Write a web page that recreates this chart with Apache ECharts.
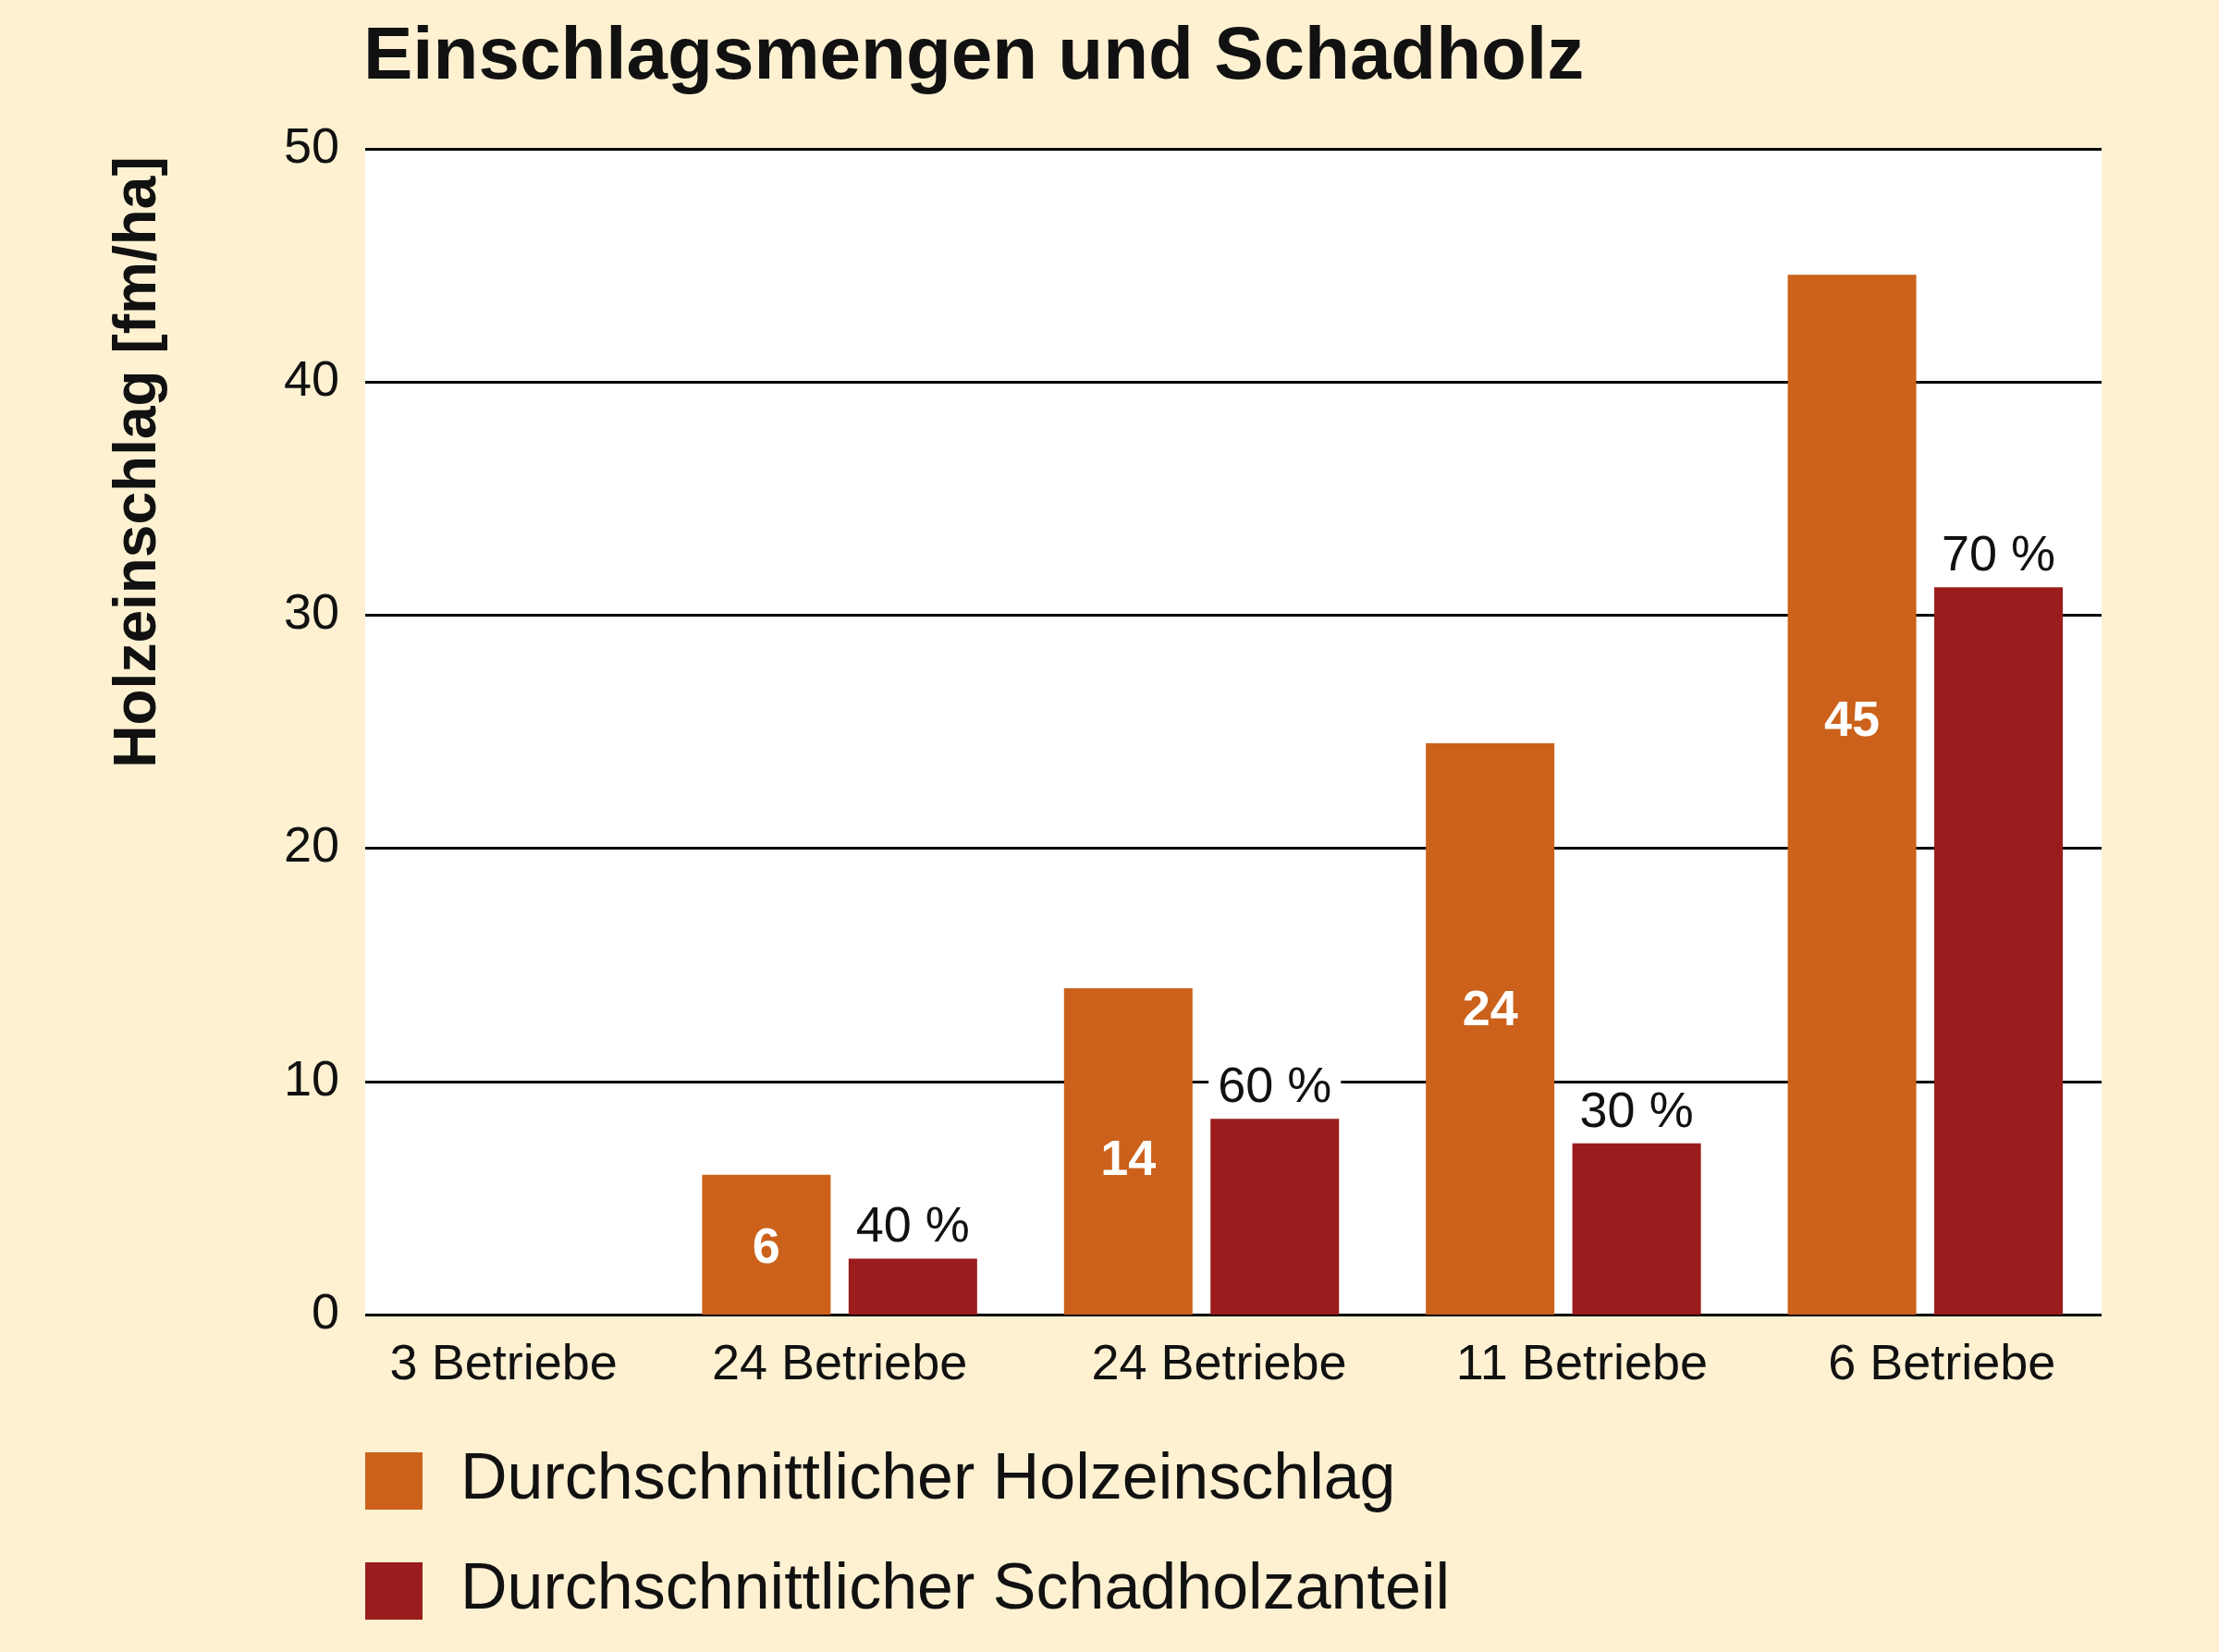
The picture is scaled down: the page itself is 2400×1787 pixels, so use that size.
<!DOCTYPE html>
<html>
<head>
<meta charset="utf-8">
<script src="https://cdn.jsdelivr.net/npm/echarts@6/dist/echarts.min.js"></script>
<style>
html,body{margin:0;padding:0;background:#FEF1D2;}
#chart{width:2400px;height:1787px;}
</style>
</head>
<body>
<div id="chart"></div>
<script>
const categories = ['3 Betriebe', '24 Betriebe', '24 Betriebe', '11 Betriebe', '6 Betriebe'];
const einschlag = [null, 6, 14, 24.5, 44.6];
const schadholz = [null, 2.4, 8.4, 7.35, 31.2];
const einschlagLabels = ['', '6', '14', '24', '45'];
const schadholzLabels = ['', '40 %', '60 %', '30 %', '70 %'];
const yTicks = [0, 10, 20, 30, 40, 50];
const seriesNames = ['Durchschnittlicher Holzeinschlag', 'Durchschnittlicher Schadholzanteil'];
const titleText = 'Einschlagsmengen und Schadholz';
const yAxisName = 'Holzeinschlag [fm/ha]';

// style-only tweaks: vertical placement of the labels inside the orange bars,
// and left padding nudging each category label as in the original layout
const einschlagLabelY = ['50%', '53%', '53%', '47%', '43%'];
const categoryLabelPad = [56, 0, 38, 40, 36];

const FONT = 'Liberation Sans';
const ORANGE = '#CB611A';
const RED = '#9B1C1C';

const chart = echarts.init(document.getElementById('chart'));
const yMin = yTicks[0], yMax = yTicks[yTicks.length - 1], yStep = yTicks[1] - yTicks[0];

const option = {
  backgroundColor: '#FEF1D2',
  animation: false,
  title: {
    text: titleText,
    left: 393, top: 20, padding: 0,
    textStyle: { fontFamily: FONT, fontWeight: 'bold', fontSize: 80, color: '#111', lineHeight: 86 }
  },
  legend: {
    orient: 'vertical', left: 395, top: 1567, padding: 0,
    itemWidth: 62, itemHeight: 62, itemGap: 49,
    icon: 'rect',
    data: seriesNames,
    textStyle: { fontFamily: FONT, fontSize: 70, color: '#111', lineHeight: 62, padding: [0, 0, 0, 36] }
  },
  graphic: [{
    type: 'text',
    x: 150, y: 500,
    rotation: Math.PI / 2,
    style: { text: yAxisName, fontFamily: FONT, fontWeight: 'bold', fontSize: 64, fill: '#111', align: 'center', verticalAlign: 'middle' }
  }],
  grid: [
    { left: 395, right: 127, top: 161, bottom: 365, show: true, backgroundColor: '#FFFFFF', borderWidth: 0 },
    { left: 321, right: 122, top: 161, bottom: 365 }
  ],
  xAxis: [
    { type: 'value', gridIndex: 0, show: false, min: 0, max: 1 },
    {
      type: 'category', gridIndex: 1,
      data: categories.map((c, i) => ({ value: c, textStyle: { padding: [0, 0, 0, categoryLabelPad[i]] } })),
      axisLine: { show: false }, axisTick: { show: false },
      axisLabel: { fontFamily: FONT, fontSize: 54, color: '#111', margin: 28 }
    }
  ],
  yAxis: [
    {
      type: 'value', gridIndex: 0, min: yMin, max: yMax, interval: yStep,
      axisLine: { show: false }, axisTick: { show: false },
      axisLabel: { fontFamily: FONT, fontSize: 54, color: '#111', margin: 28 },
      splitLine: { show: true, lineStyle: { color: '#000', width: 3 } }
    },
    { type: 'value', gridIndex: 1, min: yMin, max: yMax, interval: yStep, show: false, splitLine: { show: false } }
  ],
  series: [
    {
      name: seriesNames[0], type: 'bar', xAxisIndex: 1, yAxisIndex: 1,
      barWidth: 139, barGap: '14%',
      itemStyle: { color: ORANGE },
      data: einschlag.map((v, i) => ({
        value: v,
        label: {
          show: v != null, formatter: einschlagLabels[i],
          position: ['50%', einschlagLabelY[i]], align: 'center', verticalAlign: 'middle',
          color: '#fff', fontFamily: FONT, fontWeight: 'bold', fontSize: 54
        }
      }))
    },
    {
      name: seriesNames[1], type: 'bar', xAxisIndex: 1, yAxisIndex: 1,
      barWidth: 139,
      itemStyle: { color: RED },
      data: schadholz.map((v, i) => ({
        value: v,
        label: {
          show: v != null, formatter: schadholzLabels[i], position: 'top', distance: 6,
          color: '#111', fontFamily: FONT, fontSize: 54,
          backgroundColor: '#fff', padding: [0, 10, 0, 10]
        }
      }))
    }
  ]
};
chart.setOption(option);
</script>
</body>
</html>
